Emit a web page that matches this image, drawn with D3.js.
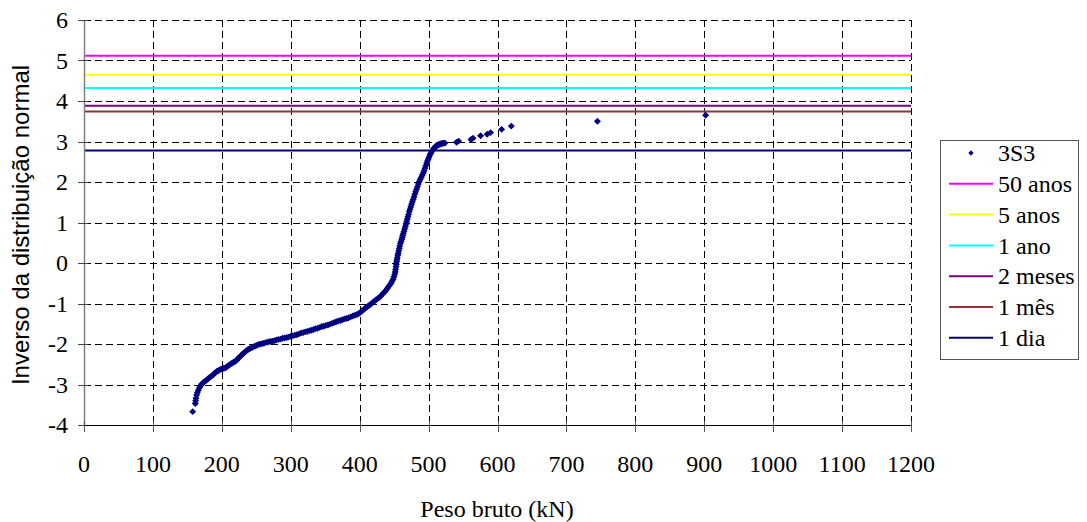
<!DOCTYPE html>
<html><head><meta charset="utf-8">
<script src="https://cdn.jsdelivr.net/npm/d3@7"></script>
<style>body{margin:0;background:#fff}svg{display:block}</style>
</head><body>
<svg id="c" width="1087" height="522"></svg>
<script>
// Series 3S3: peso bruto (kN) and inverso da distribuição normal
const pesoBruto = [157.7,161.5,162,162.5,163.5,164.5,165.9,167.5,169,170.7,172.5,174.5,176.5,178.5,180.5,182.5,184.5,186.5,188.5,190.5,192.5,194.5,196.5,198.8,201,203,205,207,209,211,213,215,217,219,221.5,223.5,225.5,227.5,229.5,231.5,233.5,236,238.5,241,243.5,246,248.5,251,253.5,256,258.5,261,264,267,270,273,276,279,282,285,288,291,294,297,300,303,306,309,312,315,318,321,324,327,330,333,336,339,342,345,348,351,354,357,360,363,366,369,372,375,378,381,384,387,390,393,396,398.5,401,403.5,406,408.5,411,413.5,416,418.5,421,423.5,426,428.5,431,433.5,436,438,440,442,444,445.5,447,448.5,449.8,450.8,451.5,452.1,452.7,453.2,453.6,454.1,454.6,455.3,456,456.8,457.5,458.2,459,460,461,461.8,462.5,463.4,464.3,465.3,466.3,467.3,468.2,469.1,470,471,472,473.1,474.2,475.3,476.4,477.6,478.8,480,481.2,482.5,483.8,485.2,486.5,488,489.5,490.9,492.3,493.5,494.8,496,497.2,498.4,499.6,500.8,502,503.2,504.4,505.6,506.8,508,509.2,510.4,511.7,513,514.5,516,517.5,519,520.5,522,523.8,540.5,543.5,561.5,564.5,575.5,585,590,606,620,745,902];
const inversoNormal = [-3.67,-3.47,-3.40,-3.34,-3.26,-3.20,-3.14,-3.08,-3.03,-2.99,-2.96,-2.93,-2.91,-2.88,-2.85,-2.82,-2.80,-2.77,-2.74,-2.71,-2.68,-2.66,-2.64,-2.62,-2.61,-2.60,-2.59,-2.57,-2.54,-2.52,-2.49,-2.47,-2.45,-2.43,-2.40,-2.36,-2.33,-2.29,-2.26,-2.23,-2.20,-2.16,-2.13,-2.11,-2.09,-2.07,-2.05,-2.03,-2.01,-2.00,-1.99,-1.98,-1.96,-1.95,-1.94,-1.93,-1.92,-1.90,-1.89,-1.88,-1.86,-1.85,-1.84,-1.83,-1.81,-1.80,-1.78,-1.77,-1.75,-1.73,-1.72,-1.70,-1.69,-1.67,-1.66,-1.64,-1.62,-1.61,-1.59,-1.57,-1.56,-1.54,-1.53,-1.51,-1.49,-1.47,-1.45,-1.43,-1.42,-1.40,-1.38,-1.37,-1.35,-1.33,-1.31,-1.29,-1.27,-1.25,-1.22,-1.18,-1.15,-1.11,-1.08,-1.05,-1.02,-0.98,-0.95,-0.91,-0.88,-0.85,-0.81,-0.76,-0.72,-0.68,-0.63,-0.58,-0.54,-0.50,-0.45,-0.40,-0.34,-0.28,-0.22,-0.16,-0.09,-0.03,0.03,0.08,0.13,0.19,0.24,0.30,0.36,0.42,0.48,0.53,0.58,0.63,0.68,0.73,0.78,0.84,0.90,0.96,1.02,1.08,1.14,1.20,1.27,1.33,1.39,1.45,1.51,1.57,1.63,1.70,1.76,1.82,1.88,1.95,2.01,2.07,2.12,2.17,2.22,2.28,2.34,2.40,2.46,2.52,2.57,2.62,2.67,2.71,2.75,2.78,2.81,2.84,2.86,2.88,2.89,2.91,2.92,2.93,2.94,2.95,2.95,2.96,2.96,2.98,3.01,3.05,3.08,3.14,3.18,3.22,3.30,3.38,3.50,3.65];

// Return-period levels
const levelNames = ["50 anos","5 anos","1 ano","2 meses","1 mês","1 dia"];
const levelValues = [5.12,4.65,4.32,3.88,3.74,2.78];
const levelColors = ["#ff00ff","#ffff00","#00ffff","#800080","#993030","#000080"];

const xTicks = [0,100,200,300,400,500,600,700,800,900,1000,1100,1200];
const yTicks = [-4,-3,-2,-1,0,1,2,3,4,5,6];

const SERIF = '"Liberation Serif"';
const SANS = '"Liberation Sans"';

const svg = d3.select("#c");
const x = d3.scaleLinear().domain([0,1200]).range([84,911]);
const y = d3.scaleLinear().domain([-4,6]).range([425,20]);

// grid
const g = svg.append("g");
g.selectAll("line.h").data(yTicks.filter(d=>d>-4)).enter().append("line")
 .attr("x1",x(0)).attr("x2",x(1200)).attr("y1",d=>Math.round(y(d))+0.5).attr("y2",d=>Math.round(y(d))+0.5)
 .attr("stroke","#000").attr("stroke-dasharray","7,4").attr("stroke-width",1);
g.selectAll("line.v").data(xTicks.filter(d=>d>0)).enter().append("line")
 .attr("x1",d=>Math.round(x(d))+0.5).attr("x2",d=>Math.round(x(d))+0.5).attr("y1",y(6)).attr("y2",y(-4))
 .attr("stroke","#000").attr("stroke-dasharray","7,4").attr("stroke-width",1);

// level lines
svg.selectAll("line.lvl").data(levelValues).enter().append("line")
 .attr("x1",x(0)).attr("x2",x(1200)).attr("y1",d=>y(d)).attr("y2",d=>y(d))
 .attr("stroke",(d,i)=>levelColors[i]).attr("stroke-width",2);

// scatter (diamond markers)
const marker = d3.symbol().type(d3.symbolSquare).size(24);
const legMarker = d3.symbol().type(d3.symbolSquare).size(14);
svg.selectAll("path.pt").data(pesoBruto).enter().append("path")
 .attr("d",marker).attr("fill","#000080")
 .attr("transform",(d,i)=>`translate(${x(d)},${y(inversoNormal[i])}) rotate(45)`);

// axes
const ax = svg.append("g");
ax.append("line").attr("x1",84.5).attr("x2",84.5).attr("y1",y(6)).attr("y2",y(-4)).attr("stroke","#808080").attr("stroke-width",1.5);
ax.selectAll("line.yt").data(yTicks).enter().append("line")
 .attr("x1",78).attr("x2",88).attr("y1",d=>Math.round(y(d))+0.5).attr("y2",d=>Math.round(y(d))+0.5).attr("stroke","#444");
ax.append("line").attr("x1",x(0)).attr("x2",x(1200)).attr("y1",425.5).attr("y2",425.5).attr("stroke","#000");
ax.selectAll("line.xt").data(xTicks).enter().append("line")
 .attr("x1",d=>Math.round(x(d))+0.5).attr("x2",d=>Math.round(x(d))+0.5).attr("y1",421).attr("y2",432).attr("stroke","#555");

svg.selectAll("text.yl").data(yTicks).enter().append("text")
 .style("font-family",SERIF).style("font-size","24px")
 .attr("x",68).attr("y",d=>y(d)).attr("dy","0.34em").attr("text-anchor","end").text(d=>d);
svg.selectAll("text.xl").data(xTicks).enter().append("text")
 .style("font-family",SERIF).style("font-size","24px")
 .attr("x",d=>x(d)).attr("y",472).attr("text-anchor","middle").text(d=>d);

svg.append("text").style("font-family",SERIF).style("font-size","24px")
 .attr("x",497).attr("y",517).attr("text-anchor","middle").text("Peso bruto (kN)");
svg.append("text").style("font-family",SANS).style("font-size","24px")
 .attr("transform","translate(29,225) rotate(-90)").attr("text-anchor","middle")
 .text("Inverso da distribuição normal");

// legend
const leg = svg.append("g");
leg.append("rect").attr("x",940.5).attr("y",140.5).attr("width",138).attr("height",219)
 .attr("fill","#fff").attr("stroke","#555").attr("stroke-width",1);
const legNames = ["3S3"].concat(levelNames);
legNames.forEach((name,i)=>{
  const yy = 153 + i*30.8;
  if(i===0){
    leg.append("path").attr("d",legMarker).attr("fill","#000080").attr("transform",`translate(971,${yy}) rotate(45)`);
  } else {
    leg.append("line").attr("x1",949).attr("x2",993).attr("y1",yy).attr("y2",yy)
     .attr("stroke",levelColors[i-1]).attr("stroke-width",2);
  }
  leg.append("text").style("font-family",SERIF).style("font-size","24px")
   .attr("x",998).attr("y",yy).attr("dy","0.34em").text(name);
});
</script>
</body></html>
